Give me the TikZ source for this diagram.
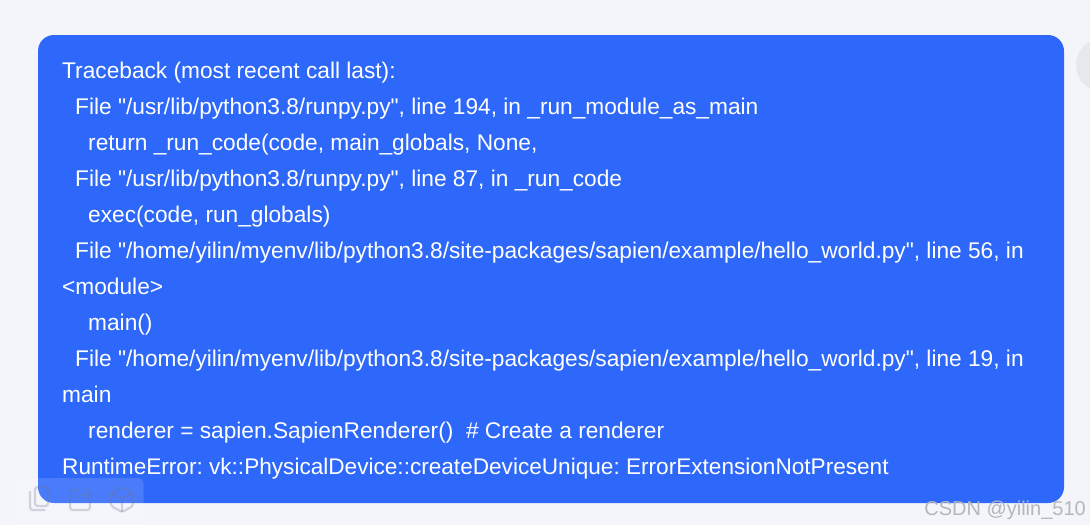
\documentclass[tikz,border=0pt]{standalone}
\usepackage{fontspec}
\setmainfont[Ligatures=TeXOff]{Liberation Sans}
\definecolor{pagebg}{HTML}{F4F5FB}
\definecolor{cardblue}{HTML}{2E68FA}
\definecolor{avatargray}{HTML}{E7E8EC}
\definecolor{icongray}{HTML}{70758C}
\definecolor{markgray}{HTML}{B4B6BE}

\begin{document}
\begin{tikzpicture}[
        x=1pt, y=-1pt,
        codeline/.style={anchor=base west, inner sep=0pt, text=white, font=\frenchspacing\fontsize{22.7}{26}\selectfont},
        card/.style={rectangle, rounded corners=16pt, fill=cardblue, inner sep=0pt, minimum width=1026pt, minimum height=468pt},
        toolbar/.style={rectangle, rounded corners=5pt, fill=white, fill opacity=0.13, inner sep=0pt, minimum width=126pt, minimum height=43pt},
        icon/.style={draw=icongray, draw opacity=0.28, line width=2.2pt, rounded corners=2.5pt, line join=round}
    ]
    \useasboundingbox (0,0) rectangle (1090,525);
    \clip (0,0) rectangle (1090,525);
    \fill[pagebg] (0,0) rectangle (1090,525);
    % Avatar
    \node[circle, fill=avatargray, inner sep=0pt, minimum size=54pt] (avatar) at (1103,65) {};
    % Card
    \node[card] (card) at (551,269) {};
    % Traceback
    \node[codeline] (l1) at (62,78.5) {Traceback (most recent call last):};
    \node[codeline] (l2) at (75,114.5) {File "/usr/lib/python3.8/runpy.py", line 194, in \_run\_module\_as\_main};
    \node[codeline] (l3) at (88,150.5) {return \_run\_code(code, main\_globals, None,};
    \node[codeline] (l4) at (75,186.5) {File "/usr/lib/python3.8/runpy.py", line 87, in \_run\_code};
    \node[codeline] (l5) at (88,222.5) {exec(code, run\_globals)};
    \node[codeline] (l6) at (75,258.5) {File "/home/yilin/myenv/lib/python3.8/site-packages/sapien/example/hello\_world.py", line 56, in};
    \node[codeline] (l7) at (62,294.5) {<module>};
    \node[codeline] (l8) at (88,330.5) {main()};
    \node[codeline] (l9) at (75,366.5) {File "/home/yilin/myenv/lib/python3.8/site-packages/sapien/example/hello\_world.py", line 19, in};
    \node[codeline] (l10) at (62,402.5) {main};
    \node[codeline] (l11) at (88,438.5) {renderer = sapien.SapienRenderer()\ \ \# Create a renderer};
    \node[codeline, font=\frenchspacing\fontsize{22.6}{26}\selectfont] (l12) at (62,474.5) {RuntimeError: vk::PhysicalDevice::createDeviceUnique: ErrorExtensionNotPresent};
    % Toolbar
    \node[toolbar] (bar) at (80.5,499.5) {};
    % Copy icon
    \draw[icon] (30,491) -- (30,510) -- (45,510);
    \draw[icon] (35,487) rectangle (48,506);
    % Share icon
    \draw[icon] (80,490) -- (70,490) -- (70,510) -- (90,510) -- (90,502);
    \draw[icon, rounded corners=0pt] (78,500) -- (78,495) -- (90,495);
    \draw[icon, rounded corners=0pt] (85,489) -- (91,495) -- (85,500);
    % Cube icon
    \draw[icon] (122,487) -- (133,493) -- (133,506) -- (122,512) -- (111,506) -- (111,493) -- cycle;
    \draw[icon] (111,493) -- (122,499) -- (133,493) (122,499) -- (122,512);
    % Watermark
    \node[anchor=base east, inner sep=0pt, text=markgray, font=\fontsize{20}{24}\selectfont] (mark) at (1086,515) {CSDN @yilin\_510};
\end{tikzpicture}
\end{document}
